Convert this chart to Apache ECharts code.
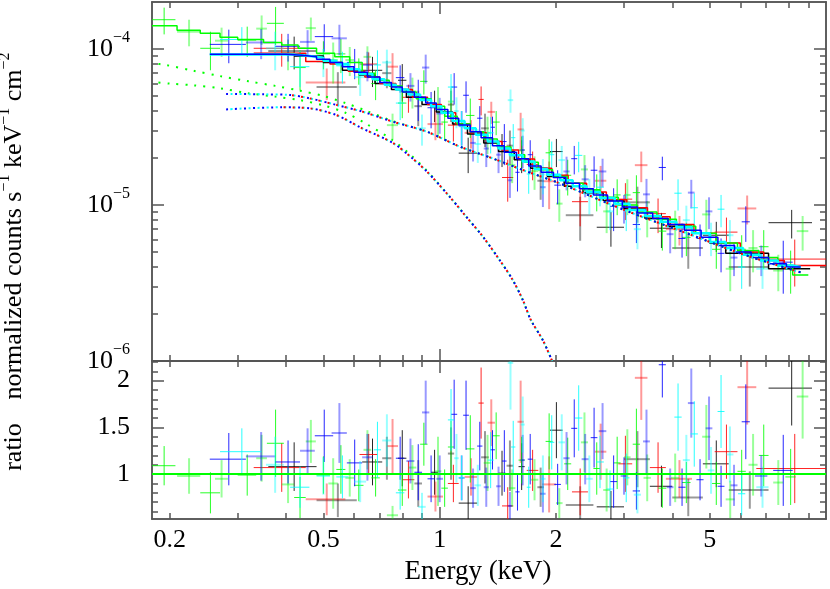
<!DOCTYPE html>
<html>
<head>
<meta charset="utf-8">
<script src="https://cdn.jsdelivr.net/npm/echarts@6/dist/echarts.min.js"></script>
<style>
  html, body { margin: 0; padding: 0; background: #fff; }
  #chart { width: 830px; height: 589px; }
</style>
</head>
<body>
<div id="chart"></div>
<script>
// energies in keV, flux in units of 1e-5 counts s^-1 keV^-1 cm^-2
// data rows: [Elo, Ehi, flux, fluxErr, ratio, ratioErr]
const blackData = [
  [0.36, 0.48, 9.7, 2.3, 1.08, 0.26], [0.48, 0.61, 5.7, 1.4, 0.72, 0.18], [0.63, 0.71, 7.3, 1.6, 1.13, 0.25],
  [0.71, 0.75, 7.0, 1.4, 1.17, 0.23], [0.78, 0.82, 6.3, 1.7, 1.17, 0.30], [0.86, 0.90, 4.3, 1.1, 0.90, 0.25],
  [0.95, 0.99, 4.4, 1.0, 1.02, 0.24], [1.05, 1.09, 4.4, 1.0, 1.22, 0.28], [1.12, 1.25, 2.15, 0.55, 0.69, 0.18],
  [1.28, 1.34, 3.1, 0.75, 1.18, 0.28], [1.42, 1.48, 2.3, 0.55, 1.01, 0.24], [1.49, 1.55, 2.4, 0.6, 1.09, 0.27],
  [1.60, 1.66, 2.1, 0.5, 1.08, 0.25], [1.79, 1.86, 1.43, 0.35, 0.86, 0.21], [1.93, 2.08, 2.2, 0.45, 1.47, 0.30],
  [2.12, 2.50, 0.86, 0.27, 0.67, 0.20], [2.55, 3.00, 0.72, 0.18, 0.65, 0.17], [3.00, 3.50, 1.04, 0.27, 1.16, 0.30],
  [3.50, 4.00, 0.71, 0.18, 0.87, 0.22], [4.00, 4.80, 0.53, 0.14, 0.75, 0.20], [4.80, 5.60, 0.64, 0.14, 1.11, 0.25],
  [5.60, 7.10, 0.40, 0.10, 0.83, 0.20], [7.10, 9.20, 0.77, 0.16, 1.92, 0.40]
];
const redData = [
  [0.33, 0.45, 10.1, 2.4, 1.07, 0.26], [0.45, 0.57, 6.1, 1.4, 0.73, 0.17], [0.62, 0.69, 8.0, 1.5, 1.21, 0.22],
  [0.73, 0.78, 7.7, 1.7, 1.30, 0.29], [0.80, 0.86, 4.9, 1.0, 0.94, 0.20], [0.93, 1.02, 3.3, 0.7, 0.76, 0.16],
  [1.05, 1.12, 3.25, 0.7, 0.90, 0.20], [1.16, 1.25, 2.9, 0.6, 0.97, 0.20], [1.26, 1.30, 4.75, 1.0, 1.76, 0.38],
  [1.33, 1.39, 3.95, 0.64, 1.55, 0.25], [1.45, 1.55, 1.5, 0.45, 0.66, 0.20], [1.59, 1.65, 3.05, 0.85, 1.56, 0.44],
  [1.68, 1.80, 1.82, 0.38, 1.04, 0.22], [1.84, 2.00, 1.42, 0.48, 0.89, 0.30], [2.20, 2.42, 1.05, 0.32, 0.81, 0.25],
  [2.52, 2.70, 1.43, 0.35, 1.24, 0.30], [2.90, 3.15, 1.09, 0.29, 1.11, 0.30], [3.20, 3.45, 1.80, 0.40, 2.03, 0.45],
  [3.50, 3.85, 0.88, 0.22, 1.07, 0.27], [3.85, 4.50, 0.70, 0.15, 0.95, 0.20], [5.15, 5.90, 0.67, 0.16, 1.24, 0.29],
  [5.90, 6.60, 0.95, 0.20, 1.93, 0.40], [6.60, 10.0, 0.45, 0.15, 1.06, 0.37]
];
const greenData = [
  [0.18, 0.207, 15.4, 3.0, 1.09, 0.21], [0.209, 0.24, 12.9, 2.5, 0.98, 0.19], [0.24, 0.27, 10.1, 2.8, 0.80, 0.22],
  [0.262, 0.283, 11.3, 2.4, 0.95, 0.20], [0.30, 0.335, 11.4, 2.5, 0.99, 0.22], [0.335, 0.357, 13.5, 2.9, 1.17, 0.25],
  [0.357, 0.395, 14.6, 4.0, 1.33, 0.36], [0.39, 0.42, 9.4, 2.1, 0.89, 0.20], [0.42, 0.45, 7.6, 2.2, 0.75, 0.22],
  [0.45, 0.478, 13.6, 2.3, 1.35, 0.23], [0.48, 0.52, 9.3, 1.9, 0.99, 0.20], [0.515, 0.545, 8.5, 2.5, 0.90, 0.27],
  [0.54, 0.57, 9.3, 2.3, 1.05, 0.26], [0.57, 0.60, 8.5, 1.8, 0.96, 0.20], [0.60, 0.635, 7.3, 1.4, 0.88, 0.17],
  [0.635, 0.665, 8.9, 1.5, 1.26, 0.21], [0.665, 0.70, 6.0, 1.3, 0.96, 0.20], [0.73, 0.78, 3.25, 0.6, 0.56, 0.10],
  [0.78, 0.82, 4.5, 0.9, 0.83, 0.17], [0.83, 0.87, 5.35, 1.2, 1.07, 0.24], [0.89, 0.93, 6.2, 1.1, 1.32, 0.23],
  [0.97, 1.01, 4.2, 1.5, 1.03, 0.37], [1.01, 1.05, 3.4, 0.8, 0.85, 0.20], [1.05, 1.09, 4.6, 1.0, 1.29, 0.28],
  [1.17, 1.23, 3.75, 1.06, 1.27, 0.36], [1.30, 1.36, 2.9, 0.78, 1.12, 0.30], [1.37, 1.43, 3.4, 0.6, 1.41, 0.25],
  [1.51, 1.57, 1.8, 0.42, 0.85, 0.20], [1.60, 1.66, 2.25, 0.5, 1.15, 0.25], [1.72, 1.80, 1.65, 0.4, 0.94, 0.22],
  [1.88, 1.96, 2.16, 0.48, 1.35, 0.30], [2.00, 2.08, 1.02, 0.24, 0.69, 0.16], [2.10, 2.19, 1.55, 0.4, 1.11, 0.28],
  [2.32, 2.42, 1.69, 0.4, 1.34, 0.32], [2.50, 2.60, 1.24, 0.33, 1.06, 0.28], [2.65, 2.76, 0.91, 0.25, 0.83, 0.23],
  [2.82, 2.94, 1.16, 0.3, 1.12, 0.28], [3.00, 3.12, 1.16, 0.3, 1.18, 0.30], [3.16, 3.30, 1.20, 0.35, 1.32, 0.38],
  [3.37, 3.52, 0.84, 0.22, 0.96, 0.25], [3.68, 3.86, 0.68, 0.17, 0.85, 0.21], [3.97, 4.17, 0.72, 0.2, 0.96, 0.26],
  [4.24, 4.46, 0.62, 0.15, 0.91, 0.22], [4.78, 5.02, 0.87, 0.21, 1.40, 0.34], [5.07, 5.33, 0.52, 0.13, 0.90, 0.23],
  [5.50, 5.80, 0.39, 0.11, 0.73, 0.20], [5.90, 6.20, 0.52, 0.12, 1.03, 0.23], [6.30, 6.65, 0.53, 0.16, 1.10, 0.33],
  [6.70, 7.10, 0.54, 0.15, 1.20, 0.33], [7.30, 7.75, 0.38, 0.10, 0.91, 0.24], [7.85, 8.35, 0.39, 0.12, 0.97, 0.30],
  [8.40, 9.00, 0.68, 0.17, 1.83, 0.45]
];
const blueData = [
  [0.254, 0.315, 10.7, 2.6, 1.16, 0.28], [0.315, 0.375, 11.0, 2.4, 1.19, 0.26], [0.375, 0.435, 10.4, 2.1, 1.13, 0.23],
  [0.435, 0.475, 11.1, 2.1, 1.25, 0.24], [0.475, 0.53, 12.0, 2.4, 1.41, 0.28], [0.525, 0.575, 11.7, 2.6, 1.44, 0.32],
  [0.575, 0.63, 8.2, 1.8, 1.12, 0.25], [0.63, 0.67, 7.9, 1.7, 1.18, 0.25], [0.77, 0.81, 6.55, 1.3, 1.17, 0.23],
  [0.82, 0.86, 5.8, 1.2, 1.14, 0.24], [0.86, 0.90, 4.9, 1.45, 1.02, 0.30], [0.90, 0.94, 7.6, 1.6, 1.66, 0.34],
  [0.93, 0.97, 4.2, 1.1, 0.95, 0.25], [0.98, 1.02, 3.86, 1.0, 0.95, 0.25], [1.07, 1.11, 5.7, 1.3, 1.64, 0.37],
  [1.12, 1.16, 3.2, 0.8, 0.96, 0.24], [1.15, 1.19, 5.05, 1.15, 1.63, 0.37], [1.20, 1.24, 2.5, 0.6, 0.85, 0.21],
  [1.25, 1.29, 3.6, 0.7, 1.30, 0.26], [1.30, 1.34, 2.3, 0.55, 0.86, 0.21], [1.35, 1.39, 3.15, 0.53, 1.26, 0.21],
  [1.40, 1.44, 2.1, 0.5, 0.87, 0.21], [1.45, 1.49, 2.55, 0.75, 1.14, 0.33], [1.50, 1.54, 1.44, 0.33, 0.66, 0.15],
  [1.57, 1.61, 1.62, 0.4, 0.81, 0.20], [1.62, 1.66, 2.25, 0.53, 1.15, 0.27], [1.69, 1.74, 2.1, 0.5, 1.16, 0.27],
  [1.82, 1.88, 1.3, 0.33, 0.79, 0.20], [1.98, 2.06, 1.34, 0.33, 0.89, 0.22], [2.09, 2.17, 1.64, 0.4, 1.17, 0.28],
  [2.19, 2.27, 1.98, 0.41, 1.49, 0.31], [2.33, 2.43, 1.46, 0.34, 1.16, 0.27], [2.46, 2.56, 1.67, 0.38, 1.39, 0.32],
  [2.58, 2.70, 1.64, 0.34, 1.46, 0.30], [2.76, 2.88, 0.98, 0.3, 0.92, 0.28], [2.94, 3.06, 0.96, 0.2, 0.98, 0.20],
  [3.16, 3.30, 0.75, 0.18, 0.82, 0.20], [3.36, 3.50, 1.17, 0.3, 1.35, 0.34], [3.69, 3.85, 1.74, 0.3, 2.17, 0.35],
  [3.87, 4.03, 0.65, 0.16, 0.86, 0.20], [4.15, 4.33, 0.61, 0.15, 0.86, 0.20], [4.39, 4.57, 1.20, 0.25, 1.76, 0.37],
  [4.62, 4.82, 0.61, 0.14, 0.94, 0.22], [4.88, 5.08, 0.91, 0.21, 1.49, 0.34], [5.24, 5.46, 0.49, 0.12, 0.87, 0.22],
  [5.66, 5.90, 0.46, 0.11, 0.88, 0.22], [6.05, 6.35, 0.78, 0.2, 1.56, 0.40], [6.55, 7.05, 0.45, 0.1, 0.98, 0.22],
  [7.30, 8.20, 0.43, 0.16, 1.04, 0.38]
];
const cyanData = [
  [0.27, 0.345, 11.5, 2.3, 1.24, 0.25], [0.355, 0.395, 10.1, 2.8, 1.10, 0.30], [0.41, 0.46, 7.7, 2.0, 0.86, 0.22],
  [0.48, 0.52, 8.3, 1.7, 0.98, 0.20], [0.54, 0.58, 7.8, 1.8, 0.97, 0.23], [0.60, 0.645, 6.6, 1.6, 0.92, 0.22],
  [0.675, 0.705, 7.9, 1.9, 1.26, 0.30], [0.71, 0.75, 8.2, 1.7, 1.36, 0.28], [0.77, 0.81, 4.5, 1.0, 0.80, 0.18],
  [0.88, 0.92, 3.1, 0.7, 0.65, 0.15], [1.05, 1.09, 5.7, 1.2, 1.58, 0.33], [1.09, 1.12, 4.0, 0.9, 1.17, 0.26],
  [1.12, 1.16, 3.2, 0.8, 0.96, 0.24], [1.23, 1.28, 2.46, 0.6, 0.88, 0.22], [1.33, 1.38, 2.9, 0.76, 1.15, 0.30],
  [1.50, 1.55, 4.7, 0.8, 2.19, 0.50], [1.53, 1.57, 2.7, 0.6, 1.29, 0.28], [1.62, 1.66, 3.0, 0.6, 1.53, 0.30],
  [1.68, 1.72, 1.58, 0.4, 0.86, 0.22], [1.82, 1.88, 1.57, 0.4, 0.95, 0.25], [1.92, 1.98, 2.1, 0.45, 1.34, 0.29],
  [2.03, 2.11, 1.94, 0.45, 1.34, 0.30], [2.24, 2.34, 2.08, 0.46, 1.60, 0.35], [2.39, 2.49, 1.17, 0.3, 0.95, 0.25],
  [2.54, 2.66, 1.30, 0.32, 1.13, 0.28], [2.70, 2.82, 0.91, 0.22, 0.84, 0.20], [2.98, 3.10, 0.93, 0.25, 0.96, 0.26],
  [3.18, 3.32, 0.70, 0.18, 0.78, 0.20], [4.05, 4.23, 1.19, 0.27, 1.61, 0.36], [4.26, 4.44, 0.80, 0.19, 1.15, 0.27],
  [4.46, 4.66, 0.96, 0.23, 1.43, 0.35], [4.94, 5.14, 0.62, 0.15, 1.04, 0.25], [5.24, 5.46, 0.94, 0.22, 1.67, 0.39],
  [5.52, 5.76, 0.64, 0.16, 1.21, 0.30], [5.92, 6.18, 0.40, 0.11, 0.79, 0.23], [6.60, 7.10, 0.39, 0.10, 0.86, 0.22]
];

// folded model, rows: [bin start energy, flux]; last row closes the final bin
const blackModel = [
  [0.42, 9.0], [0.5, 8.2], [0.56, 7.3], [0.62, 6.8], [0.68, 6.0], [0.75, 5.5], [0.82, 4.9], [0.9, 4.4],
  [0.98, 3.95], [1.08, 3.3], [1.18, 2.85], [1.3, 2.5], [1.42, 2.2], [1.56, 1.95], [1.72, 1.72], [1.9, 1.52],
  [2.1, 1.32], [2.35, 1.2], [2.65, 1.07], [3.0, 0.95], [3.4, 0.82], [3.9, 0.73], [4.5, 0.66], [5.0, 0.57],
  [5.5, 0.49], [7.1, 0.39], [9.1, 0.39]
];
const redModel = [
  [0.33, 9.4], [0.45, 8.3], [0.52, 8.0], [0.58, 7.2], [0.64, 6.6], [0.7, 6.0], [0.77, 5.5], [0.85, 4.9],
  [0.93, 4.4], [1.01, 3.9], [1.1, 3.3], [1.2, 2.9], [1.32, 2.55], [1.45, 2.25], [1.6, 1.97], [1.76, 1.72],
  [1.95, 1.55], [2.15, 1.38], [2.4, 1.21], [2.7, 1.08], [3.05, 0.96], [3.45, 0.84], [3.95, 0.75], [4.55, 0.66],
  [5.2, 0.57], [6.0, 0.5], [6.9, 0.44], [7.8, 0.41], [10.0, 0.41]
];
const greenModel = [
  [0.18, 14.1], [0.209, 13.2], [0.24, 12.6], [0.27, 11.9], [0.30, 11.5], [0.35, 11.0], [0.39, 10.6], [0.43, 10.1],
  [0.48, 9.4], [0.535, 8.9], [0.585, 8.2], [0.63, 7.0], [0.68, 6.3], [0.74, 5.8], [0.8, 5.3], [0.87, 4.8],
  [0.95, 4.3], [1.03, 3.7], [1.11, 3.3], [1.2, 2.95], [1.3, 2.65], [1.41, 2.35], [1.53, 2.1], [1.66, 1.88],
  [1.8, 1.68], [1.96, 1.52], [2.14, 1.38], [2.35, 1.25], [2.6, 1.12], [2.9, 1.0], [3.25, 0.9], [3.65, 0.81],
  [4.1, 0.73], [4.6, 0.66], [5.2, 0.57], [5.9, 0.51], [6.7, 0.46], [7.5, 0.41], [8.2, 0.356], [9.0, 0.356]
];
const blueModel = [
  [0.254, 9.25], [0.40, 9.1], [0.44, 8.9], [0.48, 8.6], [0.52, 8.2], [0.56, 7.7], [0.60, 7.1], [0.65, 6.6],
  [0.70, 6.1], [0.75, 5.7], [0.80, 5.3], [0.86, 4.9], [0.92, 4.5], [0.98, 4.1], [1.05, 3.6], [1.12, 3.25],
  [1.2, 2.95], [1.28, 2.7], [1.37, 2.4], [1.47, 2.18], [1.58, 1.98], [1.70, 1.78], [1.83, 1.62], [1.97, 1.5],
  [2.12, 1.38], [2.3, 1.27], [2.5, 1.16], [2.72, 1.06], [2.97, 0.97], [3.25, 0.89], [3.56, 0.82], [3.9, 0.75],
  [4.3, 0.69], [4.75, 0.62], [5.25, 0.55], [5.8, 0.5], [6.4, 0.46], [7.1, 0.42], [7.9, 0.4], [8.6, 0.4]
];
const cyanModel = [
  [0.254, 9.2], [0.42, 9.0], [0.46, 8.8], [0.50, 8.4], [0.54, 8.0], [0.58, 7.4], [0.62, 6.9], [0.67, 6.4],
  [0.72, 5.9], [0.77, 5.5], [0.83, 5.1], [0.89, 4.7], [0.95, 4.3], [1.01, 3.9], [1.08, 3.45], [1.16, 3.1],
  [1.24, 2.82], [1.33, 2.55], [1.42, 2.3], [1.52, 2.08], [1.64, 1.9], [1.76, 1.7], [1.9, 1.56], [2.05, 1.44],
  [2.21, 1.32], [2.4, 1.21], [2.6, 1.11], [2.84, 1.02], [3.1, 0.93], [3.4, 0.85], [3.73, 0.78], [4.1, 0.72],
  [4.5, 0.66], [5.0, 0.58], [5.5, 0.53], [6.1, 0.48], [6.75, 0.44], [7.5, 0.41], [8.2, 0.4], [8.6, 0.4]
];

// model components (dotted), rows: [energy, flux]
const compUpper = [
  [0.28, 5.15], [0.35, 5.12], [0.41, 5.07], [0.46, 4.83], [0.54, 4.38], [0.63, 3.97], [0.756, 3.42], [0.926, 2.95],
  [1.126, 2.37], [1.37, 1.99], [1.68, 1.64], [2.04, 1.38], [3.0, 0.93], [4.5, 0.64], [6.0, 0.49], [8.0, 0.39], [8.6, 0.37]
];
const compLower = [
  [0.28, 4.1], [0.39, 4.23], [0.46, 4.17], [0.54, 3.77], [0.63, 3.1], [0.756, 2.5], [0.84, 2.04], [0.926, 1.64],
  [1.061, 1.13], [1.172, 0.84], [1.294, 0.626], [1.429, 0.444], [1.546, 0.33], [1.641, 0.246], [1.722, 0.183],
  [1.849, 0.136], [1.955, 0.1], [2.05, 0.075]
];
const greenCompUpper = [
  [0.18, 8.1], [0.195, 7.9], [0.23, 7.26], [0.27, 6.7], [0.32, 6.2], [0.375, 5.8], [0.435, 5.4], [0.5, 5.0],
  [0.57, 4.5], [0.64, 4.05], [0.756, 3.45], [0.926, 2.95], [1.126, 2.37], [1.37, 1.99], [1.68, 1.64], [2.04, 1.38],
  [3.0, 0.93], [4.5, 0.64], [6.0, 0.49], [8.0, 0.39], [8.6, 0.37]
];
const greenCompLower = [
  [0.18, 6.15], [0.2, 6.0], [0.23, 5.85], [0.27, 5.6], [0.32, 5.2], [0.375, 4.95], [0.435, 4.7], [0.5, 4.35],
  [0.57, 3.9], [0.64, 3.35], [0.756, 2.6], [0.84, 2.1], [0.926, 1.66], [1.061, 1.13], [1.172, 0.84], [1.294, 0.626],
  [1.429, 0.444], [1.546, 0.33], [1.641, 0.246], [1.722, 0.183], [1.849, 0.136], [1.955, 0.1], [2.05, 0.075]
];

// ticks and labels
const xMinorTicks = [0.2, 0.3, 0.4, 0.5, 0.6, 0.7, 0.8, 0.9, 2, 3, 4, 5, 6, 7, 8, 9];
const xMajorTicks = [1];
const xTickLabels = [0.2, 0.5, 1, 2, 5];
const yMajorTicks = [1e-6, 1e-5, 1e-4];
const yMinorTicks = [2e-6, 3e-6, 4e-6, 5e-6, 6e-6, 7e-6, 8e-6, 9e-6, 2e-5, 3e-5, 4e-5, 5e-5, 6e-5, 7e-5, 8e-5, 9e-5];
const ratioMajorTicks = [1, 1.5, 2];
const ratioMinorTicks = [0.6, 0.7, 0.8, 0.9, 1.1, 1.2, 1.3, 1.4, 1.6, 1.7, 1.8, 1.9, 2.1, 2.2];

const FONT = '"Liberation Serif", "Times New Roman", serif';
const AXIS_COLOR = '#555';
const X_MIN = 0.18, X_MAX = 10, Y_MIN = 1e-6, Y_MAX = 2e-4, R_MIN = 0.52, R_MAX = 2.21;
const COL = { black: '#000000', red: '#ff0000', green: '#00ff00', blue: '#0000ff', cyan: '#00ffff' };

const chart = echarts.init(document.getElementById('chart'));

function baseAxis(type, grid, pos, min, max, ticks, len, labels, label) {
  const ax = {
    type: type, gridIndex: grid, position: pos, min: min, max: max,
    axisLine: { show: true, onZero: false, lineStyle: { color: AXIS_COLOR, width: 1.5 } },
    axisTick: { show: true, inside: true, length: len, customValues: ticks, lineStyle: { color: AXIS_COLOR, width: 1.5 } },
    axisLabel: { show: false },
    splitLine: { show: false },
    minorTick: { show: false },
    minorSplitLine: { show: false }
  };
  if (type === 'log') ax.logBase = 10;
  if (labels) ax.axisLabel = Object.assign({ show: true, customValues: labels, color: '#000', fontFamily: FONT, fontSize: 26 }, label);
  return ax;
}

const supRich = {
  a: { fontFamily: FONT, fontSize: 26, color: '#000', lineHeight: 38 },
  b: { fontFamily: FONT, fontSize: 16, color: '#000', verticalAlign: 'top', lineHeight: 16 }
};

const xLabel = { margin: 8, formatter: v => String(+Number(v).toPrecision(3)) };
const yLabel = {
  margin: 22, rich: supRich,
  formatter: v => '{a|10}{b|\u2212' + Math.round(-Math.log10(v)) + '}'
};
const rLabel = { margin: 22, formatter: v => String(+Number(v).toPrecision(3)) };

const xAxes = [
  baseAxis('log', 0, 'bottom', X_MIN, X_MAX, xMinorTicks, 6),
  baseAxis('log', 0, 'bottom', X_MIN, X_MAX, xMajorTicks, 12),
  baseAxis('log', 0, 'top', X_MIN, X_MAX, xMinorTicks, 6),
  baseAxis('log', 0, 'top', X_MIN, X_MAX, xMajorTicks, 12),
  baseAxis('log', 1, 'bottom', X_MIN, X_MAX, xMinorTicks, 6, xTickLabels, xLabel),
  baseAxis('log', 1, 'bottom', X_MIN, X_MAX, xMajorTicks, 12),
  baseAxis('log', 1, 'top', X_MIN, X_MAX, xMinorTicks, 6),
  baseAxis('log', 1, 'top', X_MIN, X_MAX, xMajorTicks, 12)
];
const yAxes = [
  baseAxis('log', 0, 'left', Y_MIN, Y_MAX, yMinorTicks, 6),
  baseAxis('log', 0, 'left', Y_MIN, Y_MAX, yMajorTicks, 12, yMajorTicks, yLabel),
  baseAxis('log', 0, 'right', Y_MIN, Y_MAX, yMinorTicks, 6),
  baseAxis('log', 0, 'right', Y_MIN, Y_MAX, yMajorTicks, 12),
  baseAxis('value', 1, 'left', R_MIN, R_MAX, ratioMinorTicks, 6),
  baseAxis('value', 1, 'left', R_MIN, R_MAX, ratioMajorTicks, 12, ratioMajorTicks, rLabel),
  baseAxis('value', 1, 'right', R_MIN, R_MAX, ratioMinorTicks, 6),
  baseAxis('value', 1, 'right', R_MIN, R_MAX, ratioMajorTicks, 12)
];

// error-bar crosses; bottom = ratio panel
function crosses(rows, color, bottom) {
  return {
    type: 'custom', silent: true, z: 2,
    xAxisIndex: bottom ? 4 : 0, yAxisIndex: bottom ? 4 : 0,
    encode: { x: [0, 1], y: 2 },
    data: rows.map(r => bottom ? [r[0], r[1], r[4], r[5]] : [r[0], r[1], r[2] * 1e-5, r[3] * 1e-5]),
    renderItem: function (params, api) {
      const cs = params.coordSys;
      const lo = api.value(0), hi = api.value(1), v = api.value(2), e = api.value(3);
      const mid = (lo + hi) / 2;
      const low = bottom ? v - e : Math.max(v - e, 1e-9);
      const p0 = api.coord([lo, v]), p1 = api.coord([hi, v]);
      const q0 = api.coord([mid, low]), q1 = api.coord([mid, v + e]);
      const x0 = cs.x, x1 = cs.x + cs.width, y0 = cs.y, y1 = cs.y + cs.height;
      const cx = x => Math.min(Math.max(x, x0), x1);
      const cy = y => Math.min(Math.max(y, y0), y1);
      const faint = params.dataIndex % 2 === 1;
      const style = { stroke: color, lineWidth: faint ? 2 : 1, opacity: faint ? 0.4 : 0.85 };
      const children = [];
      if (p0[1] >= y0 && p0[1] <= y1) {
        children.push({ type: 'line', shape: { x1: cx(p0[0]), y1: p0[1], x2: cx(p1[0]), y2: p1[1] }, style: style });
      }
      if (q0[0] >= x0 && q0[0] <= x1) {
        children.push({ type: 'line', shape: { x1: q0[0], y1: cy(q0[1]), x2: q1[0], y2: cy(q1[1]) }, style: style });
      }
      return { type: 'group', children: children };
    }
  };
}

function modelLine(rows, color, width) {
  return {
    type: 'line', step: 'end', symbol: 'none', silent: true, z: 3,
    xAxisIndex: 0, yAxisIndex: 0,
    data: rows.map(r => [r[0], r[1] * 1e-5]),
    lineStyle: { color: color, width: width }
  };
}

function compLine(rows, color, offset, fromE) {
  return {
    type: 'line', symbol: 'none', smooth: 0.3, silent: true, z: 4,
    xAxisIndex: 0, yAxisIndex: 0,
    data: rows.filter(r => r[0] >= fromE).map(r => [r[0], r[1] * 1e-5]),
    lineStyle: { color: color, width: 2, type: [2, 7], dashOffset: offset, cap: 'butt' }
  };
}

function ratioLine(color, from, to) {
  return {
    type: 'line', symbol: 'none', silent: true, z: 3,
    xAxisIndex: 4, yAxisIndex: 4,
    data: [[from, 1], [to, 1]],
    lineStyle: { color: color, width: 2 }
  };
}

const series = [
  crosses(blackData, COL.black, false), crosses(redData, COL.red, false), crosses(greenData, COL.green, false),
  crosses(blueData, COL.blue, false), crosses(cyanData, COL.cyan, false),
  modelLine(blackModel, COL.black, 1.5), modelLine(redModel, COL.red, 1.5), modelLine(greenModel, COL.green, 1.5),
  modelLine(cyanModel, COL.cyan, 2.5), modelLine(blueModel, COL.blue, 1.5),
  compLine(greenCompUpper, COL.green, 2.5, 0), compLine(greenCompLower, COL.green, 2.5, 0),
  compLine(compUpper, COL.cyan, 4.5, 0), compLine(compLower, COL.cyan, 4.5, 0),
  compLine(compUpper, COL.red, 7, 0.39), compLine(compLower, COL.red, 7, 0.39),
  compLine(compUpper, COL.blue, 0, 0), compLine(compLower, COL.blue, 0, 0),
  crosses(blackData, COL.black, true), crosses(redData, COL.red, true), crosses(greenData, COL.green, true),
  crosses(blueData, COL.blue, true), crosses(cyanData, COL.cyan, true),
  ratioLine(COL.black, 0.36, 9.2), ratioLine(COL.blue, 0.254, 8.6), ratioLine(COL.green, X_MIN, X_MAX)
];

const titleRich = {
  a: { fontFamily: FONT, fontSize: 26, fill: '#000', lineHeight: 34 },
  b: { fontFamily: FONT, fontSize: 16, fill: '#000', verticalAlign: 'top', lineHeight: 16 }
};

chart.setOption({
  animation: false,
  backgroundColor: '#fff',
  grid: [
    { left: 152, top: 2, width: 674, height: 359 },
    { left: 152, top: 361, width: 674, height: 158 }
  ],
  xAxis: xAxes,
  yAxis: yAxes,
  series: series,
  graphic: [
    {
      type: 'text', x: 14, y: 226, rotation: Math.PI / 2,
      style: {
        text: '{a|normalized counts s}{b|\u22121}{a| keV}{b|\u22121}{a| cm}{b|\u22122}',
        rich: titleRich, align: 'center', verticalAlign: 'middle'
      }
    },
    {
      type: 'text', x: 14, y: 447, rotation: Math.PI / 2,
      style: { text: 'ratio', fontFamily: FONT, fontSize: 26, fill: '#000', align: 'center', verticalAlign: 'middle' }
    },
    {
      type: 'text', x: 478, y: 572,
      style: { text: 'Energy (keV)', fontFamily: FONT, fontSize: 27, fill: '#000', align: 'center', verticalAlign: 'middle' }
    }
  ]
});
</script>
</body>
</html>
